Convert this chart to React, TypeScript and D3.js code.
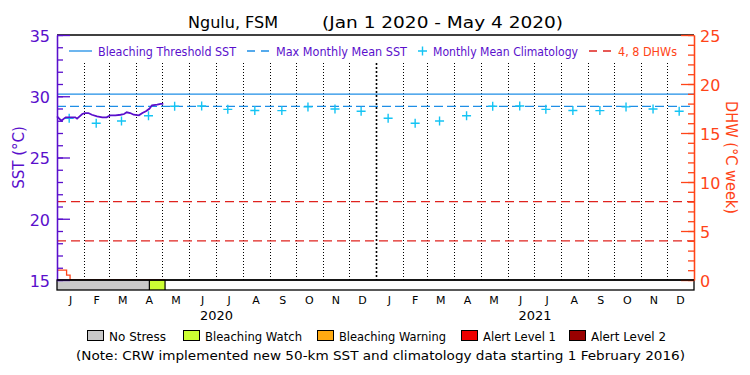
import { useRef, useEffect } from 'react';
import * as d3 from 'd3';

const WIDTH = 750;
const HEIGHT = 375;
const MARGIN = { top: 35, right: 56, bottom: 95, left: 57 };
const BAR_HEIGHT = 10;
const FONT = "'DejaVu Sans', 'Liberation Sans', sans-serif";

const PURPLE = '#5a0fcc';
const BLUE = '#1e8ee6';
const CYAN = '#14c4f4';
const ORANGE_RED = '#ff4418';
const RED = '#e0231e';

// daily SST (days since 1 Jan 2020)
const sstDays = [0, 2, 5, 8, 10, 15, 21, 23, 25, 29, 32, 36, 40, 46, 52, 57, 61, 67, 73, 77, 80, 84, 88, 94, 98, 102, 106, 109, 115, 119, 122];
const sstValues = [28.36, 28.22, 28.0, 28.17, 28.28, 28.28, 28.28, 28.17, 28.3, 28.55, 28.63, 28.63, 28.49, 28.36, 28.28, 28.28, 28.44, 28.44, 28.49, 28.55, 28.69, 28.63, 28.49, 28.44, 28.63, 28.77, 28.98, 29.26, 29.31, 29.37, 29.37];

// degree heating weeks
const dhwDays = [0, 11, 15, 124];
const dhwValues = [1.0, 0.5, 0, 0];

// monthly mean climatology (Jan..Dec)
const climValues = [28.2, 27.79, 27.98, 28.41, 29.18, 29.2, 28.93, 28.84, 28.83, 29.13, 28.96, 28.77];
const climYears = [2020, 2021];

const MMM = 29.18;
const THRESHOLD = MMM + 1;
const dhwLevels = [4, 8];

// stress bar segments
const stressStartDays = [0, 106];
const stressEndDays = [106, 124];
const stressLevel = [0, 1];

const stressLabels = ['No Stress', 'Bleaching Watch', 'Bleaching Warning', 'Alert Level 1', 'Alert Level 2'];
const stressColors = ['#c8c8c8', '#ccff33', '#ffaa11', '#ee0000', '#990000'];
const stressBoxX = [87, 183, 317, 461, 569];
const stressTextW = [57, 97, 107, 73, 75];

const monthLetters = ['J', 'F', 'M', 'A', 'M', 'J', 'J', 'A', 'S', 'O', 'N', 'D'];
const yearLabels = ['2020', '2021'];

const START = new Date(Date.UTC(2020, 0, 1));
const END = new Date(Date.UTC(2022, 0, 1));
const dayDate = (d: number) => d3.utcDay.offset(START, d);

export default function App() {
  const svgRef = useRef<SVGSVGElement>(null);

  useEffect(() => {
    if (!svgRef.current) return;
    const svg = d3.select(svgRef.current);
    svg.selectAll('*').remove();

    const x0 = MARGIN.left;
    const x1 = WIDTH - MARGIN.right;
    const y0 = MARGIN.top;
    const y1 = HEIGHT - MARGIN.bottom;

    const x = d3.scaleUtc().domain([START, END]).range([x0, x1]);
    const ySst = d3.scaleLinear().domain([15, 35]).range([y1, y0]);
    const yDhw = d3.scaleLinear().domain([0, 25]).range([y1, y0]);

    svg.append('rect').attr('width', WIDTH).attr('height', HEIGHT).attr('fill', 'white');

    // month grid (dotted)
    const months = d3.utcMonth.range(d3.utcMonth.offset(START, 1), END);
    months.forEach((m) => {
      const isYear = m.getUTCMonth() === 0;
      const px = Math.round(x(m)) + 0.5;
      svg.append('line')
        .attr('x1', px).attr('x2', px)
        .attr('y1', 63).attr('y2', y1)
        .attr('stroke', 'black')
        .attr('stroke-width', isYear ? 1.6 : 1)
        .attr('stroke-dasharray', isYear ? '2,2' : '1,2');
    });

    // threshold + MMM
    svg.append('line')
      .attr('x1', x0).attr('x2', x1)
      .attr('y1', ySst(THRESHOLD)).attr('y2', ySst(THRESHOLD))
      .attr('stroke', BLUE).attr('stroke-width', 1.3);
    svg.append('line')
      .attr('x1', x0).attr('x2', x1)
      .attr('y1', ySst(MMM)).attr('y2', ySst(MMM))
      .attr('stroke', BLUE).attr('stroke-width', 1.3)
      .attr('stroke-dasharray', '9,4');

    // DHW 4 and 8 lines
    dhwLevels.forEach((v) => {
      svg.append('line')
        .attr('x1', x0).attr('x2', x1)
        .attr('y1', yDhw(v)).attr('y2', yDhw(v))
        .attr('stroke', RED).attr('stroke-width', 1.3)
        .attr('stroke-dasharray', '9,5');
    });

    // climatology crosses
    climYears.forEach((yr) => {
      climValues.forEach((v, i) => {
        const mid = new Date(Date.UTC(yr, i, 15));
        const cx = x(mid);
        const cy = ySst(v);
        svg.append('path')
          .attr('d', `M${cx - 4.5},${cy}H${cx + 4.5}M${cx},${cy - 4.5}V${cy + 4.5}`)
          .attr('stroke', CYAN).attr('stroke-width', 1.4).attr('fill', 'none');
      });
    });

    // SST line
    const sstLine = d3.line<number>()
      .x((d) => x(dayDate(d)))
      .y((_, i) => ySst(sstValues[i]));
    svg.append('path')
      .attr('d', sstLine(sstDays))
      .attr('fill', 'none').attr('stroke', PURPLE).attr('stroke-width', 1.8);

    // DHW line
    const dhwLine = d3.line<number>()
      .x((d) => x(dayDate(d)))
      .y((_, i) => yDhw(dhwValues[i]))
      .curve(d3.curveStepAfter);
    svg.append('path')
      .attr('d', dhwLine(dhwDays))
      .attr('fill', 'none').attr('stroke', ORANGE_RED).attr('stroke-width', 1.3);

    // frame top / bottom
    svg.append('line').attr('x1', x0).attr('x2', x1).attr('y1', y0).attr('y2', y0)
      .attr('stroke', 'black').attr('stroke-width', 1.3);

    // stress bar
    stressStartDays.forEach((s, i) => {
      svg.append('rect')
        .attr('x', x(dayDate(s)))
        .attr('y', y1)
        .attr('width', x(dayDate(stressEndDays[i])) - x(dayDate(s)))
        .attr('height', BAR_HEIGHT)
        .attr('fill', stressColors[stressLevel[i]]);
    });
    svg.append('rect')
      .attr('x', x0).attr('y', y1)
      .attr('width', x1 - x0).attr('height', BAR_HEIGHT)
      .attr('fill', 'none').attr('stroke', 'black').attr('stroke-width', 1.3);
    stressEndDays.slice(0, -1).concat([stressEndDays[stressEndDays.length - 1]]).forEach((e) => {
      const px = x(dayDate(e));
      svg.append('line').attr('x1', px).attr('x2', px).attr('y1', y1).attr('y2', y1 + BAR_HEIGHT)
        .attr('stroke', 'black').attr('stroke-width', 1.2);
    });

    // left axis (SST)
    const leftMinor = svg.append('g').attr('transform', `translate(${x0},0)`)
      .call(d3.axisLeft(ySst).tickValues(d3.range(15, 36, 1)).tickSize(-6).tickSizeOuter(0).tickFormat(() => ''));
    leftMinor.selectAll('line, path').attr('stroke', PURPLE).attr('stroke-width', 1.3);
    const leftMajor = svg.append('g').attr('transform', `translate(${x0},0)`)
      .call(d3.axisLeft(ySst).tickValues(d3.range(15, 36, 5)).tickSize(-13).tickSizeOuter(0).tickPadding(7));
    leftMajor.selectAll('line, path').attr('stroke', PURPLE).attr('stroke-width', 1.3);
    leftMajor.selectAll('text')
      .attr('fill', PURPLE).attr('font-size', 16).attr('font-family', FONT).attr('dy', '0.4em');

    // right axis (DHW)
    const rightMinor = svg.append('g').attr('transform', `translate(${x1},0)`)
      .call(d3.axisRight(yDhw).tickValues(d3.range(0, 26, 1)).tickSize(-6).tickSizeOuter(0).tickFormat(() => ''));
    rightMinor.selectAll('line, path').attr('stroke', ORANGE_RED).attr('stroke-width', 1.3);
    const rightMajor = svg.append('g').attr('transform', `translate(${x1},0)`)
      .call(d3.axisRight(yDhw).tickValues(d3.range(0, 26, 5)).tickSize(-13).tickSizeOuter(0).tickPadding(6));
    rightMajor.selectAll('line, path').attr('stroke', ORANGE_RED).attr('stroke-width', 1.3);
    rightMajor.selectAll('text')
      .attr('fill', ORANGE_RED).attr('font-size', 16).attr('font-family', FONT).attr('dy', '0.4em');

    // bottom frame line over DHW baseline
    svg.append('line').attr('x1', x0).attr('x2', x1).attr('y1', y1).attr('y2', y1)
      .attr('stroke', 'black').attr('stroke-width', 1.3);

    // month letters
    const allMonths = d3.utcMonth.range(START, END);
    allMonths.forEach((m) => {
      const cx = (x(m) + x(d3.utcMonth.offset(m, 1))) / 2;
      svg.append('text')
        .attr('x', cx).attr('y', 304)
        .attr('text-anchor', 'middle')
        .attr('font-size', 11).attr('font-family', FONT)
        .text(monthLetters[m.getUTCMonth()]);
    });
    yearLabels.forEach((yl, i) => {
      const a = new Date(Date.UTC(2020 + i, 0, 1));
      const b = new Date(Date.UTC(2021 + i, 0, 1));
      svg.append('text')
        .attr('x', (x(a) + x(b)) / 2).attr('y', 320)
        .attr('text-anchor', 'middle')
        .attr('font-size', 12).attr('font-family', FONT)
        .attr('textLength', 33).attr('lengthAdjust', 'spacingAndGlyphs')
        .text(yl);
    });

    // axis titles
    svg.append('text')
      .attr('transform', `translate(24,${(y0 + y1) / 2}) rotate(-90)`)
      .attr('text-anchor', 'middle')
      .attr('fill', PURPLE).attr('font-size', 15).attr('font-family', FONT)
      .text('SST (°C)');
    svg.append('text')
      .attr('transform', `translate(726,${(y0 + y1) / 2}) rotate(90)`)
      .attr('text-anchor', 'middle')
      .attr('fill', ORANGE_RED).attr('font-size', 15).attr('font-family', FONT)
      .attr('textLength', 113).attr('lengthAdjust', 'spacingAndGlyphs')
      .text('DHW (°C week)');

    // title
    const addText = (tx: number, ty: number, w: number, size: number, fill: string, s: string) =>
      svg.append('text')
        .attr('x', tx).attr('y', ty)
        .attr('font-size', size).attr('font-family', FONT).attr('fill', fill)
        .attr('textLength', w).attr('lengthAdjust', 'spacingAndGlyphs')
        .text(s);
    addText(188, 28, 90, 16, 'black', 'Ngulu, FSM');
    addText(322, 28, 241, 16, 'black', '(Jan 1 2020 - May 4 2020)');

    // top legend
    const ly = 51;
    svg.append('line').attr('x1', 69).attr('x2', 92).attr('y1', ly).attr('y2', ly)
      .attr('stroke', BLUE).attr('stroke-width', 1.3);
    addText(98, 55.5, 138, 12.5, PURPLE, 'Bleaching Threshold SST');
    svg.append('line').attr('x1', 247).attr('x2', 269).attr('y1', ly).attr('y2', ly)
      .attr('stroke', BLUE).attr('stroke-width', 1.3).attr('stroke-dasharray', '8,6');
    addText(276, 55.5, 131, 12.5, PURPLE, 'Max Monthly Mean SST');
    svg.append('path')
      .attr('d', `M418,${ly}H427M422.5,${ly - 4.5}V${ly + 4.5}`)
      .attr('stroke', CYAN).attr('stroke-width', 1.4);
    addText(433, 55.5, 145, 12.5, PURPLE, 'Monthly Mean Climatology');
    svg.append('line').attr('x1', 589).attr('x2', 611).attr('y1', ly).attr('y2', ly)
      .attr('stroke', RED).attr('stroke-width', 1.3).attr('stroke-dasharray', '8,6');
    addText(618, 55.5, 59, 12.5, ORANGE_RED, '4, 8 DHWs');

    // stress legend
    stressLabels.forEach((lab, i) => {
      svg.append('rect')
        .attr('x', stressBoxX[i] + 0.5).attr('y', 330.5)
        .attr('width', 16).attr('height', 10)
        .attr('fill', stressColors[i]).attr('stroke', 'black').attr('stroke-width', 1);
      addText(stressBoxX[i] + 22, 340.5, stressTextW[i], 12.5, 'black', lab);
    });
    addText(76, 359.5, 609, 12.5, 'black',
      '(Note: CRW implemented new 50-km SST and climatology data starting 1 February 2016)');
  }, []);

  return (
    <div style={{ position: 'absolute', left: 0, top: 0 }}>
      <svg ref={svgRef} width={WIDTH} height={HEIGHT} style={{ display: 'block' }} />
    </div>
  );
}
